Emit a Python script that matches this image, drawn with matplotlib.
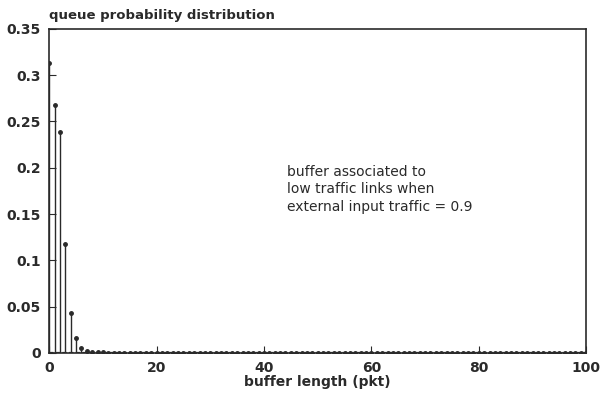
from matplotlib import pyplot as plt

# data
head = [0.313, 0.268, 0.239, 0.118, 0.043, 0.016, 0.005, 0.002,
        0.0012, 0.0008, 0.0005, 0.0003, 0.0002]
tail = [0.0001] * 88
probs = head + tail
buffer_len = list(range(len(probs)))

x_ticks = [0, 20, 40, 60, 80, 100]
y_ticks = [0, 0.05, 0.1, 0.15, 0.2, 0.25, 0.3, 0.35]
y_labels = ["0", "0.05", "0.1", "0.15", "0.2", "0.25", "0.3", "0.35"]

ink = "#2a2a2a"

fig = plt.figure(figsize=(6, 4.01), dpi=100)
ax = fig.add_axes([0.082, 0.12, 0.895, 0.808])

ml, sl, bl = ax.stem(buffer_len, probs, basefmt=" ")
plt.setp(sl, color=ink, linewidth=1.0)
plt.setp(ml, color=ink, markersize=2.5)
ax.plot([0, 100], [0, 0], color=ink, linewidth=1.6, linestyle=(0, (2, 1)))

ax.set_xlim(0, 100)
ax.set_ylim(0, 0.35)
ax.set_xticks(x_ticks)
ax.set_xticklabels([str(v) for v in x_ticks], fontweight="bold", fontsize=10, color=ink)
ax.set_yticks(y_ticks)
ax.set_yticklabels(y_labels, fontweight="bold", fontsize=10, color=ink)
ax.tick_params(direction="in", length=5, color=ink, pad=6)
for s in ax.spines.values():
    s.set_color(ink)
    s.set_linewidth(1.2)

ax.set_xlabel("buffer length (pkt)", fontweight="bold", fontsize=10, color=ink, labelpad=0)
ax.text(0, 1.02, "queue probability distribution", transform=ax.transAxes,
        fontweight="bold", fontsize=9.5, color=ink, va="bottom", ha="left")

ax.text(44.3, 0.203, "buffer associated to\nlow traffic links when\nexternal input traffic = 0.9",
        fontsize=10, color=ink, va="top", ha="left", linespacing=1.3)

fig.savefig("out.png", dpi=100)
